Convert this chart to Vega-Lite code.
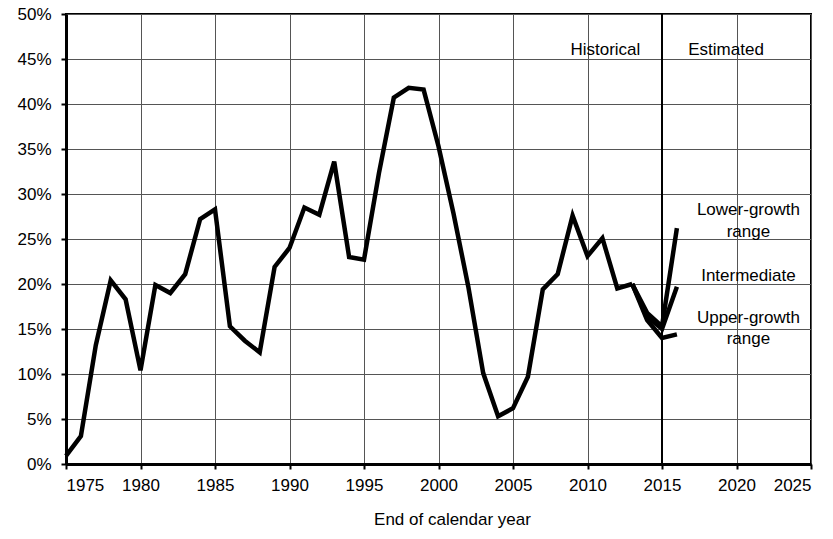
{
  "$schema": "https://vega.github.io/schema/vega-lite/v6.json",
  "autosize": {"type": "none"},
  "padding": {"left": 66, "top": 14, "right": 22, "bottom": 75},
  "width": 745,
  "height": 450,
  "config": {
    "font": "Liberation Sans",
    "view": {"stroke": "black", "strokeWidth": 2},
    "axis": {
      "domainColor": "black", "domainWidth": 3, "tickColor": "black", "tickWidth": 2,
      "gridColor": "#555555", "gridWidth": 1, "labelColor": "black", "titleColor": "black",
      "labelFont": "Liberation Sans", "titleFont": "Liberation Sans", "titleFontWeight": "normal"
    }
  },
  "datasets": {
    "lines": [
      {"series": "Historical", "year": 1975, "value": 0.009},
      {"series": "Historical", "year": 1976, "value": 0.031},
      {"series": "Historical", "year": 1977, "value": 0.132},
      {"series": "Historical", "year": 1978, "value": 0.204},
      {"series": "Historical", "year": 1979, "value": 0.183},
      {"series": "Historical", "year": 1980, "value": 0.104},
      {"series": "Historical", "year": 1981, "value": 0.199},
      {"series": "Historical", "year": 1982, "value": 0.190},
      {"series": "Historical", "year": 1983, "value": 0.211},
      {"series": "Historical", "year": 1984, "value": 0.272},
      {"series": "Historical", "year": 1985, "value": 0.283},
      {"series": "Historical", "year": 1986, "value": 0.153},
      {"series": "Historical", "year": 1987, "value": 0.137},
      {"series": "Historical", "year": 1988, "value": 0.124},
      {"series": "Historical", "year": 1989, "value": 0.219},
      {"series": "Historical", "year": 1990, "value": 0.240},
      {"series": "Historical", "year": 1991, "value": 0.285},
      {"series": "Historical", "year": 1992, "value": 0.277},
      {"series": "Historical", "year": 1993, "value": 0.336},
      {"series": "Historical", "year": 1994, "value": 0.230},
      {"series": "Historical", "year": 1995, "value": 0.227},
      {"series": "Historical", "year": 1996, "value": 0.323},
      {"series": "Historical", "year": 1997, "value": 0.407},
      {"series": "Historical", "year": 1998, "value": 0.418},
      {"series": "Historical", "year": 1999, "value": 0.416},
      {"series": "Historical", "year": 2000, "value": 0.353},
      {"series": "Historical", "year": 2001, "value": 0.279},
      {"series": "Historical", "year": 2002, "value": 0.197},
      {"series": "Historical", "year": 2003, "value": 0.101},
      {"series": "Historical", "year": 2004, "value": 0.053},
      {"series": "Historical", "year": 2005, "value": 0.062},
      {"series": "Historical", "year": 2006, "value": 0.097},
      {"series": "Historical", "year": 2007, "value": 0.194},
      {"series": "Historical", "year": 2008, "value": 0.211},
      {"series": "Historical", "year": 2009, "value": 0.276},
      {"series": "Historical", "year": 2010, "value": 0.231},
      {"series": "Historical", "year": 2011, "value": 0.251},
      {"series": "Historical", "year": 2012, "value": 0.195},
      {"series": "Historical", "year": 2013, "value": 0.200},
      {"series": "Lower-growth", "year": 2013, "value": 0.200},
      {"series": "Lower-growth", "year": 2014, "value": 0.168},
      {"series": "Lower-growth", "year": 2015, "value": 0.153},
      {"series": "Lower-growth", "year": 2016, "value": 0.262},
      {"series": "Intermediate", "year": 2013, "value": 0.200},
      {"series": "Intermediate", "year": 2014, "value": 0.164},
      {"series": "Intermediate", "year": 2015, "value": 0.150},
      {"series": "Intermediate", "year": 2016, "value": 0.197},
      {"series": "Upper-growth", "year": 2013, "value": 0.200},
      {"series": "Upper-growth", "year": 2014, "value": 0.160},
      {"series": "Upper-growth", "year": 2015, "value": 0.140},
      {"series": "Upper-growth", "year": 2016, "value": 0.144}
    ],
    "labels": [
      {"text": "Historical", "x": 2011.2, "y": 0.46},
      {"text": "Estimated", "x": 2019.3, "y": 0.46},
      {"text": "Lower-growth", "x": 2020.8, "y": 0.282},
      {"text": "range", "x": 2020.8, "y": 0.258},
      {"text": "Intermediate", "x": 2020.8, "y": 0.209},
      {"text": "Upper-growth", "x": 2020.8, "y": 0.162},
      {"text": "range", "x": 2020.8, "y": 0.139}
    ],
    "divider": [{"year": 2015}]
  },
  "layer": [
    {
      "data": {"name": "divider"},
      "mark": {"type": "rule", "color": "black", "strokeWidth": 2},
      "encoding": {
        "x": {"field": "year", "type": "quantitative", "scale": {"domain": [1975, 2025], "nice": false}}
      }
    },
    {
      "data": {"name": "lines"},
      "mark": {"type": "line", "color": "black", "strokeWidth": 4.5, "strokeJoin": "miter"},
      "encoding": {
        "x": {
          "field": "year", "type": "quantitative",
          "scale": {"domain": [1975, 2025], "nice": false, "zero": false},
          "axis": {
            "values": [1975, 1980, 1985, 1990, 1995, 2000, 2005, 2010, 2015, 2020, 2025],
            "format": "d", "labelFontSize": 17, "labelPadding": 8, "tickSize": 5,
            "title": "End of calendar year", "titleFontSize": 17, "titlePadding": 18,
            "titleX": 386, "titleAlign": "center", "titleAnchor": null
          }
        },
        "y": {
          "field": "value", "type": "quantitative",
          "scale": {"domain": [0, 0.5], "nice": false},
          "axis": {
            "values": [0, 0.05, 0.1, 0.15, 0.2, 0.25, 0.3, 0.35, 0.4, 0.45, 0.5],
            "format": ".0%", "labelFontSize": 17, "labelPadding": 10, "tickSize": 5,
            "title": null
          }
        },
        "detail": {"field": "series"}
      }
    },
    {
      "data": {"name": "labels"},
      "mark": {"type": "text", "fontSize": 17, "color": "black", "align": "center", "baseline": "middle"},
      "encoding": {
        "x": {"field": "x", "type": "quantitative"},
        "y": {"field": "y", "type": "quantitative"},
        "text": {"field": "text"}
      }
    }
  ]
}
